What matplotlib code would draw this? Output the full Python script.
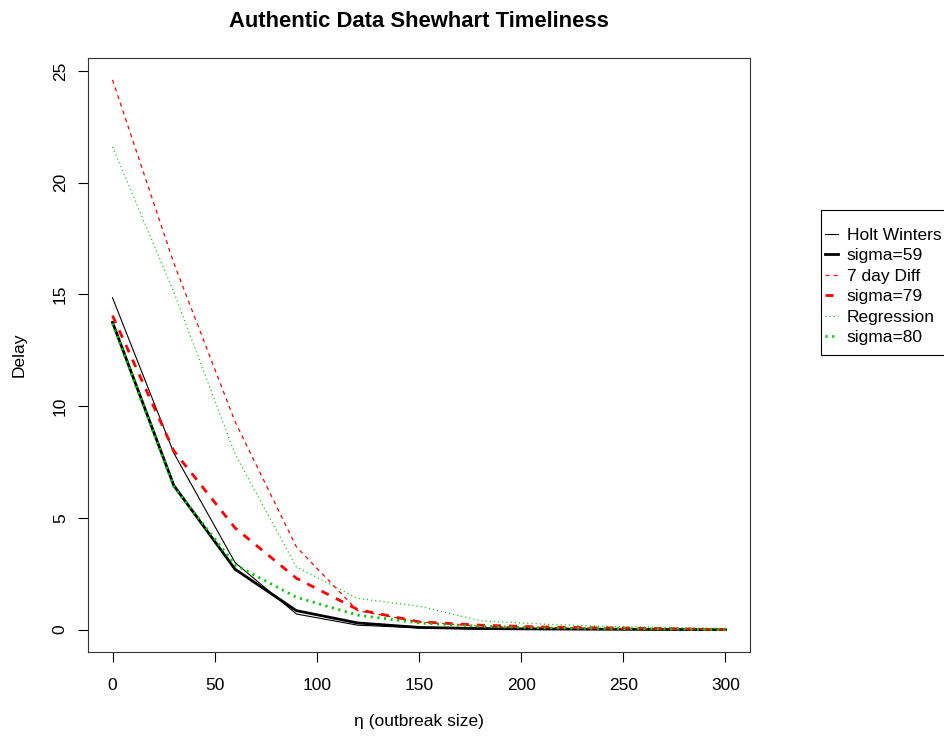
import numpy as np
import matplotlib
matplotlib.use("Agg")
import matplotlib.pyplot as plt
from matplotlib import font_manager as fm
from matplotlib.patches import Rectangle

plt.rcParams['font.family'] = ['Liberation Sans', 'DejaVu Sans']
plt.rcParams['lines.scale_dashes'] = False

# outbreak size
eta = [0, 30, 60, 90, 120, 150, 180, 210, 240, 270, 300]

# delay values
holt = [14.85, 7.9, 3.0, 0.7, 0.2, 0.08, 0.03, 0.02, 0.01, 0.0, 0.0]
sig59 = [13.75, 6.45, 2.7, 0.85, 0.3, 0.1, 0.05, 0.03, 0.02, 0.01, 0.0]
diff7 = [24.6, 16.4, 9.3, 3.7, 0.85, 0.35, 0.15, 0.1, 0.05, 0.03, 0.0]
sig79 = [14.05, 8.0, 4.55, 2.3, 0.9, 0.35, 0.2, 0.12, 0.08, 0.05, 0.0]
regr = [21.6, 15.1, 7.85, 2.8, 1.4, 1.05, 0.4, 0.25, 0.15, 0.1, 0.05]
sig80 = [13.7, 6.4, 2.9, 1.45, 0.65, 0.3, 0.15, 0.08, 0.05, 0.03, 0.0]

labels = ['Holt Winters', 'sigma=59', '7 day Diff', 'sigma=79', 'Regression', 'sigma=80']

red = '#FF0000'
green = '#00CD00'
fs = 12.5

# bold title font: avoid the Narrow variant
title_fp = fm.FontProperties(family='Liberation Sans', weight='bold', size=15.8)
for f in fm.fontManager.ttflist:
    if f.name == 'Liberation Sans' and f.weight in (700, 'bold') and f.style == 'normal' \
            and 'Narrow' not in f.fname:
        title_fp = fm.FontProperties(fname=f.fname, size=15.8)
        break

fig = plt.figure(figsize=(9.45, 7.38), dpi=100)
ax = fig.add_axes([88/945, 1 - 652/738, (750 - 88)/945, (652 - 57.5)/738])

ax.plot(eta, holt, color='black', lw=0.8, label=labels[0])
ax.plot(eta, sig59, color='black', lw=2.0, label=labels[1])
ax.plot(eta, diff7, color=red, lw=0.9, linestyle=(0, (2.9, 2.9)), label=labels[2])
ax.plot(eta, sig79, color=red, lw=2.0, linestyle=(0, (5.8, 5.8)), label=labels[3])
ax.plot(eta, regr, color=green, lw=0.9, linestyle=(0, (0.8, 2.2)), label=labels[4])
ax.plot(eta, sig80, color=green, lw=2.0, linestyle=(0, (1.5, 3.3)), label=labels[5])

ax.set_xlim(-12, 312)
ax.set_ylim(-1.0, 25.6)
ax.set_xticks([0, 50, 100, 150, 200, 250, 300])
ax.set_yticks([0, 5, 10, 15, 20, 25])
ax.tick_params(direction='out', length=7.5, width=0.8, labelsize=fs, colors='black')
ax.tick_params(axis='x', pad=11)
ax.tick_params(axis='y', pad=7)
for lab in ax.get_yticklabels():
    lab.set_rotation(90)
    lab.set_va('center')
for s in ax.spines.values():
    s.set_linewidth(0.8)
    s.set_color('#333333')

ax.set_title('Authentic Data Shewhart Timeliness', fontproperties=title_fp, pad=22)
ax.set_xlabel('\u03b7 (outbreak size)', fontsize=fs, labelpad=15)
ax.set_ylabel('Delay', fontsize=fs, labelpad=19)

leg = fig.legend(loc='upper left', bbox_to_anchor=(825/945, 1 - 227.5/738),
                 fontsize=fs, frameon=False, borderaxespad=0, borderpad=0,
                 handlelength=0.75, handletextpad=0.5, labelspacing=0.31)
# legend box, open on the right like the original
fig.patches.append(Rectangle((821/945, 1 - 355/738), 130/945, 145/738,
                             transform=fig.transFigure, fill=False,
                             edgecolor='black', linewidth=0.8))

fig.savefig('out.png', dpi=100)
